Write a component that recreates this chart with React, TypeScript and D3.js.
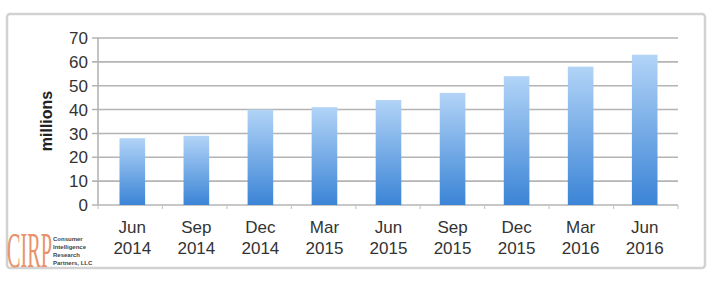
import React from "react";
import * as d3 from "d3";

const categories = ["Jun 2014", "Sep 2014", "Dec 2014", "Mar 2015", "Jun 2015", "Sep 2015", "Dec 2015", "Mar 2016", "Jun 2016"];
const values = [28, 29, 40, 41, 44, 47, 54, 58, 63];
const yTicks = [0, 10, 20, 30, 40, 50, 60, 70];
const logoLines = ["Consumer", "Intelligence", "Research", "Partners, LLC"];

export default function App() {
  const W = 710, H = 281;
  const x = d3.scaleBand<string>().domain(categories).range([99, 678]).paddingInner(0.6).paddingOuter(0.32);
  const y = d3.scaleLinear().domain([0, 70]).range([205, 38]);
  const bw = x.bandwidth();
  const font = "Arial, 'Liberation Sans', sans-serif";
  return (
    <div style={{ position: "absolute", left: 0, top: 0 }}>
      <svg width={W} height={H} style={{ display: "block", background: "#fff" }}>
        <defs>
          <linearGradient id="barg" x1="0" y1="0" x2="0" y2="1">
            <stop offset="0" stopColor="#b2d4f7" />
            <stop offset="1" stopColor="#3b84d6" />
          </linearGradient>
        </defs>
        <rect x={7} y={14} width={698} height={254} rx={3} fill="#fff" stroke="#d2d2d2" strokeWidth={2.5} />
        {yTicks.map((t) => (
          <g key={t}>
            <line x1={92} x2={678} y1={y(t)} y2={y(t)} stroke="#b4b4b4" strokeWidth={1.6} />
            <text x={88} y={y(t)} dy="0.36em" textAnchor="end" fontFamily={font} fontSize={17} fill="#333">{t}</text>
          </g>
        ))}
        <line x1={98} x2={98} y1={38} y2={205} stroke="#b4b4b4" strokeWidth={1.6} />
        {d3.range(categories.length + 1).map((i) => (
          <line key={i} x1={98 + i * (580 / categories.length)} x2={98 + i * (580 / categories.length)} y1={205} y2={209} stroke="#c8c8c8" strokeWidth={1.2} />
        ))}
        {categories.map((c, i) => (
          <rect key={c} x={x(c)!} y={y(values[i])} width={bw} height={y(0) - y(values[i])} fill="url(#barg)" />
        ))}
        {categories.map((c) => {
          const [m, yr] = c.split(" ");
          const cx = x(c)! + bw / 2;
          return (
            <text key={c} x={cx} textAnchor="middle" fontFamily={font} fontSize={17} fill="#333">
              <tspan x={cx} y={233}>{m}</tspan>
              <tspan x={cx} y={254}>{yr}</tspan>
            </text>
          );
        })}
        <text transform="translate(52,121) rotate(-90)" textAnchor="middle" fontFamily={font} fontSize={16} fontWeight="bold" fill="#222">millions</text>
        <g transform="translate(7,267) scale(0.405,1)">
          <text x={0} y={0} fontFamily="'Liberation Serif', 'DejaVu Serif', serif" fontSize={50} fill="#e8936c">CIRP</text>
        </g>
        {logoLines.map((l, i) => (
          <text key={l} x={53} y={241 + i * 8} fontFamily={font} fontSize={6} fontWeight="bold" fill="#444">{l}</text>
        ))}
      </svg>
    </div>
  );
}
